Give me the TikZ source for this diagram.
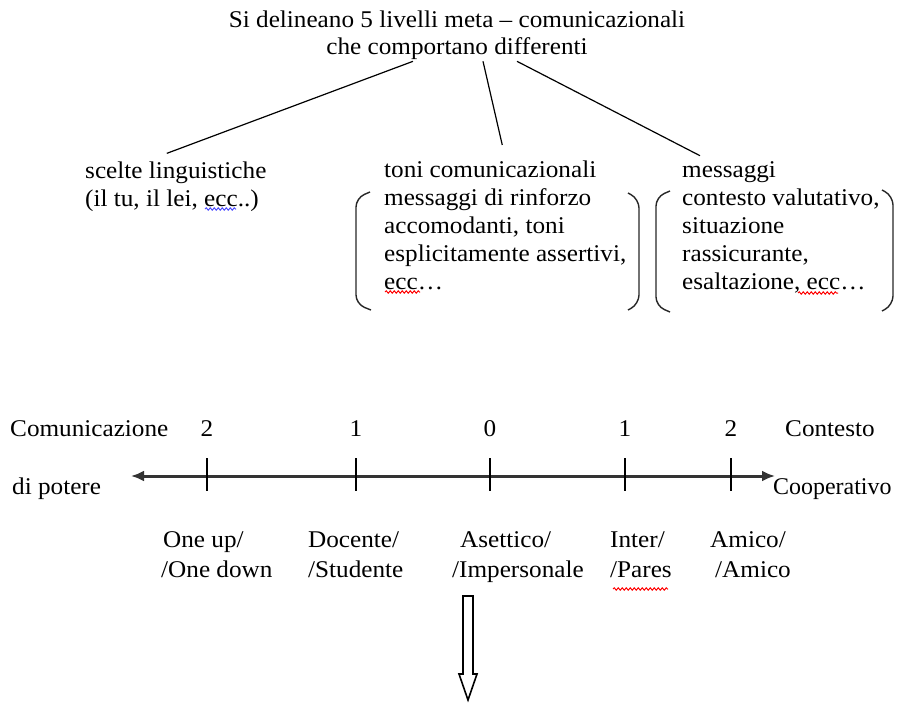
\documentclass[tikz,border=0pt]{standalone}
\usepackage{fontspec}
\setmainfont{Liberation Serif}[FakeStretch=1.05]
\usetikzlibrary{arrows.meta,positioning,calc,decorations.pathmorphing}

\tikzset{
  txt/.style={anchor=base west, align=left, inner sep=0pt},
  brak/.style={line width=1.4pt, black!85, rounded corners=9pt},
  squig/.style={decorate, decoration={snake, amplitude=1.2pt, segment length=4pt}, line width=1pt}
}

\begin{document}
\begin{tikzpicture}[x=1pt, y=-1pt, >=Latex, every node/.style={font=\fontsize{24}{27.8}\selectfont}]
\useasboundingbox (0,0) rectangle (897,702);

% titolo e tre rami (base = ultima riga)
\node[align=center, anchor=base, inner sep=0pt] (ttl) at (457,54) {Si delineano 5 livelli meta -- comunicazionali\\[-0.8pt]che comportano differenti};
\node[txt] (scl) at (85,206) {scelte linguistiche\\(il tu, il lei, ecc..)};
\node[txt] (ton) at (384,289) {toni comunicazionali\\messaggi di rinforzo\\accomodanti, toni\\esplicitamente assertivi,\\ecc…};
\node[txt] (msg) at (682,289) {messaggi\\contesto valutativo,\\situazione\\rassicurante,\\esaltazione, ecc…};

\draw[line width=1.2pt] ($(ttl.south)+(-44,2)$) -- ($(scl.north)+(-9,-8)$);
\draw[line width=1.2pt] ($(ttl.south)+(26,2)$) -- ($(ton.north)+(-3,-16)$);
\draw[line width=1.2pt] ($(ttl.south)+(60,2)$) -- ($(msg.north west)+(18,-6)$);

% parentesi
\draw[brak] (370,192) -- (356,198) -- (356,304) -- (371,310);
\draw[brak] (628,193) -- (639,199) -- (639,304) -- (628,310);
\draw[brak] (670,191) -- (656,197) -- (656,306) -- (670,312);
\draw[brak] (882,190) -- (893,196) -- (893,305) -- (882,311);

% sottolineature ortografiche
\draw[squig, blue!70] (205,209) -- (236,209);
\draw[squig, red] (385,292) -- (420,292);
\draw[squig, red] (798,293) -- (838,293);
\draw[squig, red] (613,589) -- (668,589);

% asse
\node[txt] (com) at (10,436) {Comunicazione};
\node[txt] (pot) at (12,494) {di potere};
\node[txt] (cnt) at (785,436) {Contesto};
\node[txt] (coo) at (773,494) {\scalebox{0.95}[1]{Cooperativo}};
\coordinate (axl) at (131,476);
\coordinate (axr) at (775,476);
\draw[line width=3pt, black!80, {Latex[length=13pt,width=11pt]}-{Latex[length=13pt,width=11pt]}] (axl) -- (axr);

\foreach \x/\n/\lab in {207/2/t1, 356/1/t2, 490/0/t3, 625/1/t4, 731/2/t5} {
  \draw[line width=1.6pt] (\x,458) -- (\x,491);
  \node[anchor=base, inner sep=0pt] (\lab) at (\x,436) {\n};
}

% etichette sotto l'asse
\node[txt] (oneup) at (163,547) {One up/};
\node[txt] (onedn) at (161,577) {/One down};
\node[txt] (doc) at (308,547) {Docente/};
\node[txt] (stu) at (308,577) {/Studente};
\node[txt] (ase) at (460,547) {Asettico/};
\node[txt] (imp) at (452,577) {/Impersonale};
\node[txt] (int) at (610,547) {Inter/};
\node[txt] (par) at (610,577) {/Pares};
\node[txt] (ami) at (710,547) {Amico/};
\node[txt] (amb) at (715,577) {/Amico};

% freccia in basso
\draw[line width=1.6pt, line join=miter] (463,596) -- (473,596) -- (473,674) -- (477,674) -- (468,700) -- (459,674) -- (463,674) -- cycle;
\end{tikzpicture}
\end{document}
